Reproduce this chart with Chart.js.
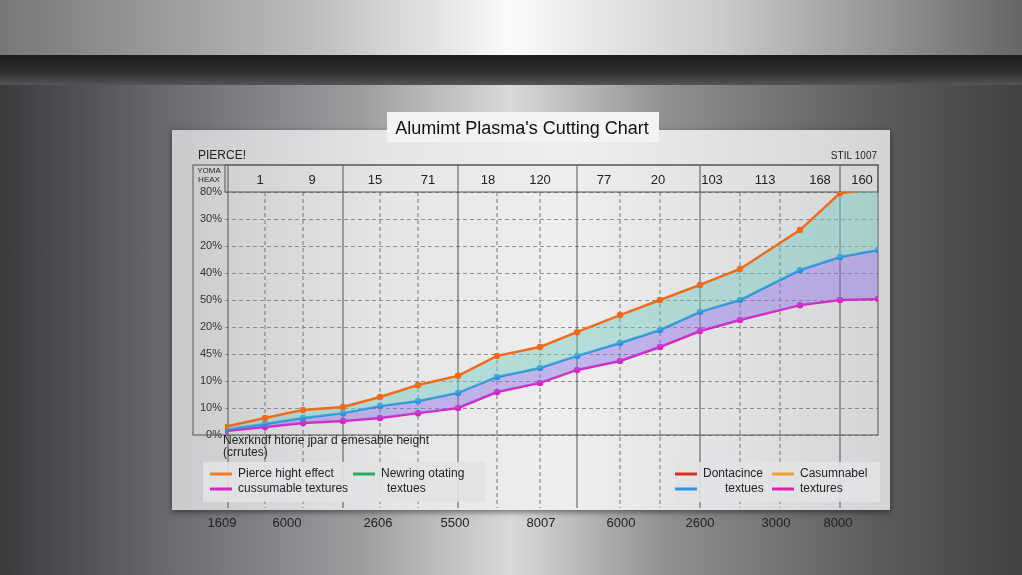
<!DOCTYPE html>
<html><head><meta charset="utf-8">
<script src="https://cdn.jsdelivr.net/npm/chart.js@4/dist/chart.umd.min.js"></script>
<style>
html,body{margin:0;width:1022px;height:575px;overflow:hidden}
body{background:linear-gradient(90deg,#3a3b3d 0%,#6d6f72 18%,#9a9c9e 35%,#d8d9da 50%,#8e9092 65%,#5c5e60 85%,#404143 100%)}
#top{position:absolute;left:0;top:0;width:1022px;height:60px;background:linear-gradient(90deg,#777 0%,#bbb 30%,#fafafa 50%,#ccc 70%,#666 100%)}
#bar{position:absolute;left:0;top:55px;width:1022px;height:30px;background:linear-gradient(#1c1d1f,#2e3032 60%,#555 100%)}
#panel{position:absolute;left:172px;top:130px;width:718px;height:380px;background:linear-gradient(90deg,#c9cacc,#e4e5e6 30%,#eeeeef 55%,#d3d4d6 100%);box-shadow:0 2px 6px rgba(0,0,0,.5)}
canvas{position:absolute;left:0;top:0}
</style></head><body>
<div id="top"></div><div id="bar"></div><div id="panel"></div>
<canvas id="c" width="1022" height="575"></canvas>
<script>
// data
const xs = [0, 40, 78, 118, 155, 193, 233, 272, 315, 352, 395, 435, 475, 515, 575, 615, 653];
const pierceHeight = [3.0, 6.3, 9.3, 10.4, 14.1, 18.5, 21.9, 29.3, 32.6, 38.1, 44.4, 50.0, 55.6, 61.5, 75.9, 89.6, 91.1];
const cuttingTexture = [1.9, 4.1, 6.3, 8.1, 10.7, 12.6, 15.6, 21.5, 24.8, 29.3, 34.1, 38.9, 45.6, 50.0, 61.1, 65.9, 68.5];
const consumableTexture = [1.5, 3.0, 4.4, 5.2, 6.3, 8.1, 10.0, 15.9, 19.3, 24.1, 27.4, 32.6, 38.5, 42.6, 48.1, 50.0, 50.4];
const yTickLabels = ['0%', '10%', '10%', '45%', '20%', '50%', '40%', '20%', '30%', '80%'];
const topLabels = ['1', '9', '15', '71', '18', '120', '77', '20', '103', '113', '168', '160'];
const topLabelX = [35, 87, 150, 203, 263, 315, 379, 433, 487, 540, 595, 637];
const bottomLabels = ['1609', '6000', '2606', '5500', '8007', '6000', '2600', '3000', '8000'];
const bottomLabelX = [-3, 62, 153, 230, 316, 396, 475, 551, 613];
const solidLines = [3, 118, 233, 352, 475, 615];
const dashedLines = [40, 78, 155, 193, 272, 315, 395, 435, 515, 555];

const pts = arr => arr.map((v, i) => ({x: xs[i], y: v}));

const decor = {
    id: 'decor',
    beforeDatasetsDraw(chart) {
        const {ctx, chartArea: a, scales: {x}} = chart;
        ctx.save();
        // vertical grid lines
        ctx.strokeStyle = '#555';
        ctx.lineWidth = 1;
        solidLines.forEach(v => {
            const px = x.getPixelForValue(v);
            ctx.beginPath(); ctx.moveTo(px, 165); ctx.lineTo(px, 508); ctx.stroke();
        });
        ctx.setLineDash([4, 3]);
        ctx.strokeStyle = '#777';
        dashedLines.forEach(v => {
            const px = x.getPixelForValue(v);
            ctx.beginPath(); ctx.moveTo(px, 192); ctx.lineTo(px, 508); ctx.stroke();
        });
        ctx.setLineDash([]);
        // header box
        ctx.strokeStyle = '#555';
        ctx.strokeRect(a.left, 165, a.right - a.left, 27);
        ctx.strokeRect(193, 165, a.right - 193, 270);
        ctx.restore();
    },
    afterDraw(chart) {
        const {ctx, scales: {x}} = chart;
        ctx.save();
        // title box
        ctx.fillStyle = '#f3f3f3';
        ctx.fillRect(387, 112, 272, 30);
        ctx.fillStyle = '#111';
        ctx.font = '18px "Liberation Sans", Arial';
        ctx.textAlign = 'center';
        ctx.textBaseline = 'middle';
        ctx.fillText("Alumimt Plasma's Cutting Chart", 522, 129);
        ctx.font = '12px "Liberation Sans"';
        ctx.fillStyle = '#222';
        ctx.textAlign = 'left';
        ctx.fillText('PIERCE!', 198, 156);
        ctx.textAlign = 'right';
        ctx.font = '10px "Liberation Sans"';
        ctx.fillText('STIL 1007', 877, 156);
        ctx.textAlign = 'center';
        ctx.font = '8px "Liberation Sans"';
        ctx.fillText('YOMA', 209, 171);
        ctx.fillText('HEAX', 209, 180);
        ctx.font = '13px "Liberation Sans"';
        topLabels.forEach((t, i) => ctx.fillText(t, x.getPixelForValue(topLabelX[i]), 180));
        bottomLabels.forEach((t, i) => ctx.fillText(t, x.getPixelForValue(bottomLabelX[i]), 523));
        // axis title
        ctx.textAlign = 'left';
        ctx.font = '12px "Liberation Sans"';
        ctx.fillText('Nexrkndf htorie jpar d emesable height', 223, 441);
        ctx.fillText('(crrutes)', 223, 453);
        // legends
        ctx.fillStyle = 'rgba(225,226,228,0.9)';
        ctx.fillRect(203, 462, 282, 40);
        ctx.fillRect(675, 462, 205, 40);
        const item = (x0, y0, col, txt) => {
            ctx.strokeStyle = col; ctx.lineWidth = 3;
            ctx.beginPath(); ctx.moveTo(x0, y0); ctx.lineTo(x0 + 22, y0); ctx.stroke();
            if (txt) { ctx.fillStyle = '#222'; ctx.fillText(txt, x0 + 28, y0); }
        };
        ctx.font = '12px "Liberation Sans"';
        item(210, 474, '#f07a2a', 'Pierce hight effect');
        item(210, 489, '#d524c4', 'cussumable textures');
        item(353, 474, '#2aa860', 'Newring otating');
        ctx.fillStyle = '#222'; ctx.fillText('textues', 387, 489);
        item(675, 474, '#d8331f', 'Dontacince');
        item(772, 474, '#f0a030', 'Casumnabel');
        item(675, 489, '#2c94e0', null);
        ctx.fillStyle = '#222'; ctx.fillText('textues', 725, 489);
        item(772, 489, '#e020b0', 'textures');
        ctx.restore();
    }
};

new Chart(document.getElementById('c'), {
    type: 'line',
    data: {
        datasets: [
            {data: pts(pierceHeight), borderColor: '#f06a1a', backgroundColor: 'rgba(110,200,190,0.45)', fill: '+1', borderWidth: 2.5, pointRadius: 2, pointBackgroundColor: '#f06a1a'},
            {data: pts(cuttingTexture), borderColor: '#2a90e0', backgroundColor: 'rgba(140,110,230,0.45)', fill: '+1', borderWidth: 2.5, pointRadius: 2, pointBackgroundColor: '#2a90e0'},
            {data: pts(consumableTexture), borderColor: '#e020c0', borderWidth: 2.5, pointRadius: 2, pointBackgroundColor: '#e020c0', fill: false}
        ]
    },
    options: {
        responsive: false,
        animation: false,
        layout: {padding: {left: 0, top: 192, right: 144, bottom: 140}},
        plugins: {legend: {display: false}, tooltip: {enabled: false}},
        scales: {
            x: {type: 'linear', min: 0, max: 653, display: false},
            y: {
                min: 0, max: 90,
                afterFit: s => { s.width = 225; },
                ticks: {stepSize: 10, color: '#333', font: {size: 11, family: 'Liberation Sans'},
                    callback: (v, i) => yTickLabels[i]},
                grid: {color: '#777', tickLength: 0, lineWidth: 0.8},
                border: {display: false, dash: [4, 3]}
            }
        }
    },
    plugins: [decor]
});
</script>
</body></html>
